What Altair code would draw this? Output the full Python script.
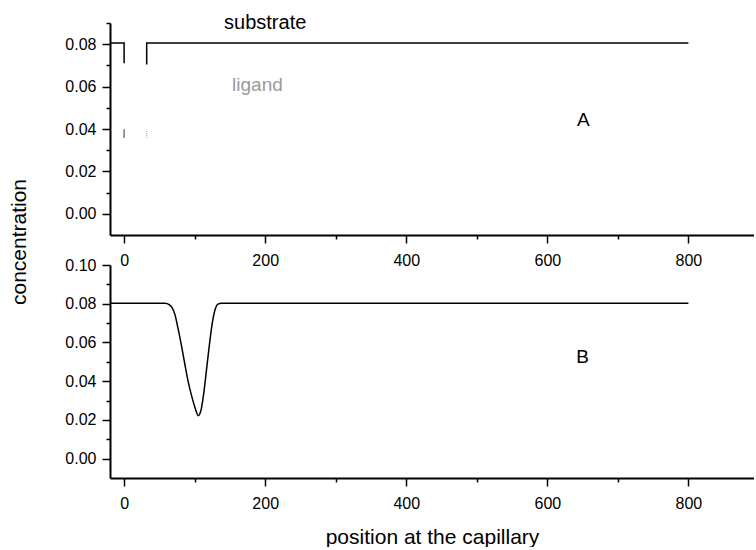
import altair as alt
import pandas as pd

# ---------------- data ----------------
# panel A: substrate (visible parts of the step) and ligand (faint marks)
sub_a1_x = [-20, 0, 0]
sub_a1_y = [0.0806, 0.0806, 0.0710]
sub_a2_x = [32, 32, 800]
sub_a2_y = [0.0704, 0.0806, 0.0806]
lig_a1_x = [0, 0]
lig_a1_y = [0.0399, 0.0357]
lig_a2_x = [32, 32]
lig_a2_y = [0.0390, 0.0353]

# panel B: substrate with a dip
sub_b_x = [-20, 58, 64, 68, 72, 76, 81, 86, 91, 96, 101, 105, 109, 113, 117,
           121, 125, 129, 133, 138, 800]
sub_b_y = [0.0803, 0.0803, 0.0795, 0.0780, 0.0745, 0.0680, 0.0590, 0.0490,
           0.0395, 0.0320, 0.0258, 0.0222, 0.0250, 0.0340, 0.0465, 0.0590,
           0.0700, 0.0770, 0.0798, 0.0803, 0.0803]

# annotations
ann_a_text = ["substrate", "ligand", "A"]
ann_a_x = [200, 189, 651]
ann_a_y = [0.0871, 0.0578, 0.0413]
ann_a_col = ["black", "#9a9a9a", "black"]
ann_a_size = [20, 19, 19]
ann_b_text = ["B"]
ann_b_x = [650]
ann_b_y = [0.0496]

# axis ticks
x_ticks = [0, 100, 200, 300, 400, 500, 600, 700, 800]
y_ticks_a = [0.00, 0.01, 0.02, 0.03, 0.04, 0.05, 0.06, 0.07, 0.08, 0.09]
y_ticks_b = [0.00, 0.01, 0.02, 0.03, 0.04, 0.05, 0.06, 0.07, 0.08, 0.09, 0.10]

x_title = "position at the capillary"
y_title = "concentration"

FONT = "Liberation Sans"


def seg_frame(xs, ys, seg, kind):
    return pd.DataFrame({"x": xs, "y": ys, "seg": seg, "kind": kind,
                         "idx": list(range(len(xs)))})


df_a = pd.concat([
    seg_frame(sub_a1_x, sub_a1_y, "s1", "substrate"),
    seg_frame(sub_a2_x, sub_a2_y, "s2", "substrate"),
], ignore_index=True)
df_lig1 = seg_frame(lig_a1_x, lig_a1_y, "l1", "ligand")
df_lig2 = seg_frame(lig_a2_x, lig_a2_y, "l2", "ligand")
df_b = seg_frame(sub_b_x, sub_b_y, "b", "substrate")

ann_a = pd.DataFrame({"t": ann_a_text, "x": ann_a_x, "y": ann_a_y,
                      "c": ann_a_col, "s": ann_a_size})
ann_b = pd.DataFrame({"t": ann_b_text, "x": ann_b_x, "y": ann_b_y})

W = 644
H_A = 212
H_B = 213

x_scale = alt.Scale(domain=[-20, 893], nice=False, zero=False)
y_scale_a = alt.Scale(domain=[-0.01, 0.09], nice=False, zero=False)
y_scale_b = alt.Scale(domain=[-0.01, 0.10], nice=False, zero=False)

major_x = "datum.value % 200 === 0"
major_y = "abs(round(datum.value * 100)) % 2 === 0"


def x_axis(title=None):
    kw = dict(
        values=x_ticks,
        labelExpr=f"{major_x} ? datum.label : ''",
        tickSize={"condition": {"test": major_x, "value": 8}, "value": 4},
        tickWidth=1.5, tickColor="black",
        domainColor="black", domainWidth=2,
        labelFont=FONT, labelFontSize=16, labelColor="black",
        labelPadding=9, grid=False,
    )
    if title:
        kw.update(title=title, titleFont=FONT, titleFontSize=21,
                  titleFontWeight="normal", titleColor="black", titlePadding=15)
    else:
        kw.update(title=None)
    return alt.Axis(**kw)


def y_axis(vals):
    return alt.Axis(
        values=vals,
        labelExpr=f"{major_y} ? format(datum.value, '.2f') : ''",
        tickSize={"condition": {"test": major_y, "value": 8}, "value": 4},
        tickWidth=1.5, tickColor="black",
        domainColor="black", domainWidth=2,
        labelFont=FONT, labelFontSize=16, labelColor="black",
        labelPadding=6, grid=False, title=None,
    )


xa = alt.X("x:Q", scale=x_scale, axis=x_axis())
ya = alt.Y("y:Q", scale=y_scale_a, axis=y_axis(y_ticks_a))

line_a = alt.Chart(df_a).mark_line(color="black", strokeWidth=1.5).encode(
    x=xa, y=ya, detail="seg:N", order="idx:Q")
lig1 = alt.Chart(df_lig1).mark_line(color="#777777", strokeWidth=1.5).encode(
    x=xa, y=ya, order="idx:Q")
lig2 = alt.Chart(df_lig2).mark_line(color="#aaaaaa", strokeWidth=1.2,
                                    strokeDash=[1, 1]).encode(
    x=xa, y=ya, order="idx:Q")
text_a = alt.Chart(ann_a).mark_text(font=FONT, baseline="alphabetic",
                                    align="center").encode(
    x=xa, y=ya, text="t:N",
    color=alt.Color("c:N", scale=None),
    size=alt.Size("s:Q", scale=None))
ytitle = alt.Chart(pd.DataFrame({"t": [y_title]})).mark_text(
    font=FONT, fontSize=21, angle=270, align="center", baseline="middle",
    color="black").encode(
    x=alt.value(-90), y=alt.value(219), text="t:N")

panel_a = alt.layer(line_a, lig1, lig2, text_a, ytitle).properties(
    width=W, height=H_A)

xb = alt.X("x:Q", scale=x_scale, axis=x_axis(x_title))
yb = alt.Y("y:Q", scale=y_scale_b, axis=y_axis(y_ticks_b))

line_b = alt.Chart(df_b).mark_line(color="black", strokeWidth=1.5,
                                   interpolate="monotone").encode(
    x=xb, y=yb, order="idx:Q")
text_b = alt.Chart(ann_b).mark_text(font=FONT, fontSize=19,
                                    baseline="alphabetic", align="center",
                                    color="black").encode(
    x=xb, y=yb, text="t:N")

panel_b = alt.layer(line_b, text_b).properties(width=W, height=H_B)

chart = alt.vconcat(panel_a, panel_b, spacing=30, bounds="flush").properties(
    padding={"left": 9, "top": 13, "right": 0, "bottom": 0},
    background="white",
).configure_view(stroke=None)

chart.save("out.html", embed_options={"renderer": "svg", "actions": False})
